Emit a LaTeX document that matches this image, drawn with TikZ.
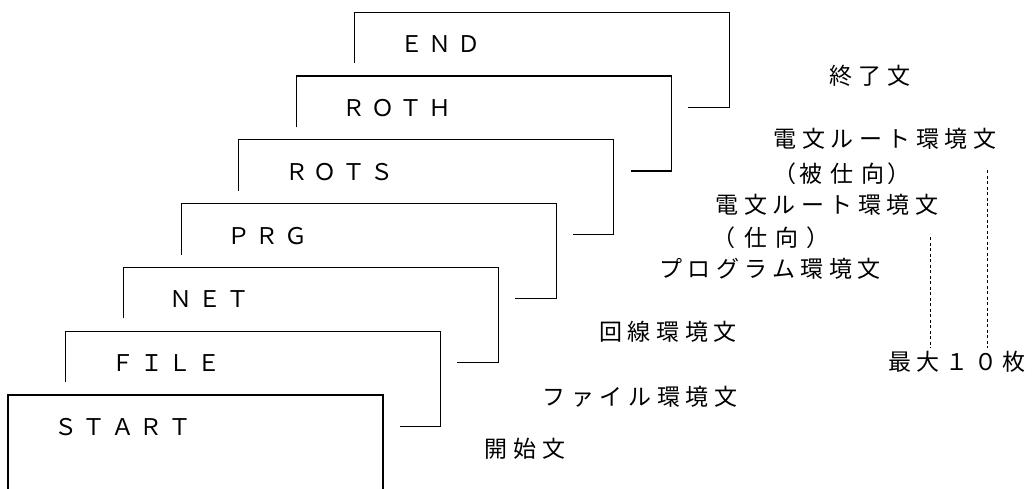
\documentclass[tikz,border=0pt]{standalone}
\usepackage{fontspec}
\newfontfamily\jp[LetterSpace=24]{Noto Sans CJK JP}
\usetikzlibrary{calc}
\begin{document}
\begin{tikzpicture}[x=1pt,y=-1pt,
  card/.style={line width=1.1pt},
  cardlbl/.style={anchor=west,inner sep=0pt,font=\jp\fontsize{23}{27}\selectfont},
  lbl/.style={anchor=center,inner sep=0pt,font=\jp\fontsize{23}{27}\selectfont},
  dotline/.style={line width=1pt,dash pattern=on 3pt off 2.5pt}]
\useasboundingbox (0,0) rectangle (1033,488);
% START card
\coordinate (c-start) at (8,395);
\draw[card] (8,489) -- (c-start) -- ++(375,0) -- (383,489);
\node[cardlbl] (l-start) at ($(c-start)+(46,32)$) {ＳＴＡＲＴ};
% stacked cards
\foreach \i/\nm/\txt in {1/file/ＦＩＬＥ,2/net/ＮＥＴ,3/prg/ＰＲＧ,4/rots/ＲＯＴＳ,5/roth/ＲＯＴＨ,6/end/ＥＮＤ}{
  \coordinate (c-\nm) at ({8+57.7*\i},{395-63.8*\i});
  \draw[card] ($(c-\nm)+(0,51)$) -- (c-\nm) -- ++(375,0) -- ++(0,95) -- ++(-41,0);
  \node[cardlbl] (l-\nm) at ($(c-\nm)+(46,32)$) {\txt};
}
% right-hand texts
\node[lbl] (t-end) at (870,76) {終了文};
\node[lbl] (t-roth1) at (885,139) {電文ルート環境文};
\node[lbl] (t-roth2) at (842,174) {（\hspace{3pt}被\hspace{8pt}仕\hspace{8pt}向\hspace{3pt}）};
\node[lbl] (t-rots1) at (827,205) {電文ルート環境文};
\node[lbl] (t-rots2) at (771,238) {（\hspace{9pt}仕\hspace{8pt}向\hspace{9pt}）};
\node[lbl] (t-prg) at (770,269) {プログラム環境文};
\node[lbl] (t-net) at (668,332) {回線環境文};
\node[lbl] (t-file) at (640,397) {ファイル環境文};
\node[lbl] (t-start) at (525,449) {開始文};
\node[lbl] (t-max) at (957,362) {最大１０枚};
% dotted range markers
\coordinate (d1a) at (930,237);
\coordinate (d1b) at (930,348);
\coordinate (d2a) at (987,170);
\coordinate (d2b) at (987,348);
\draw[dotline] (d1a) -- (d1b);
\draw[dotline] (d2a) -- (d2b);
\end{tikzpicture}
\end{document}
